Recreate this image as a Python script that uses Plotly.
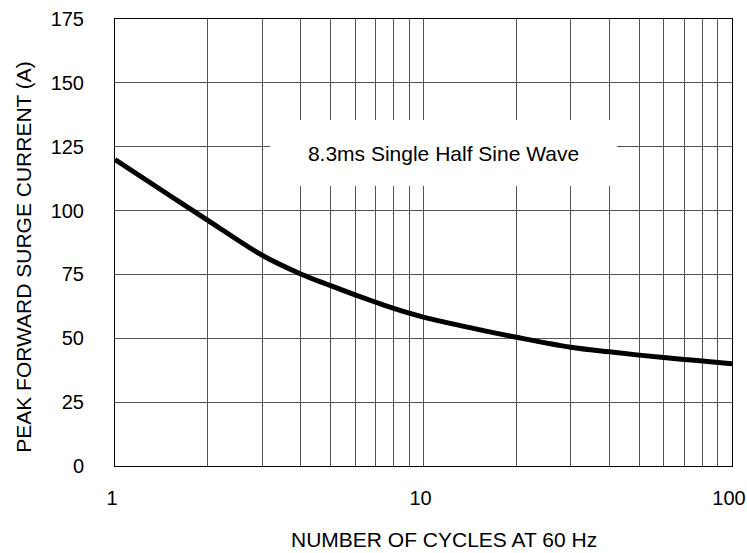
import plotly.graph_objects as go

# Data
cycles = [1, 1.5, 2, 3, 4, 5, 6, 7, 8, 10, 15, 20, 30, 40, 50, 60, 70, 80, 100]
current = [120, 106, 96.2, 82.5, 75.2, 70.6, 67.0, 64.1, 61.7, 58.3, 53.5, 50.4,
           46.5, 44.7, 43.4, 42.5, 41.7, 41.1, 40.0]

x_tick_vals = [1, 2, 3, 4, 5, 6, 7, 8, 9, 10, 20, 30, 40, 50, 60, 70, 80, 90, 100]
x_tick_text = ["1", "", "", "", "", "", "", "", "", "10", "", "", "", "", "", "", "", "", "100"]
y_tick_vals = [0, 25, 50, 75, 100, 125, 150, 175]

FONT = "Arial, Liberation Sans, sans-serif"

fig = go.Figure()
fig.add_trace(go.Scatter(
    x=cycles, y=current, mode="lines",
    line=dict(color="black", width=5, shape="spline", smoothing=1.0),
    hoverinfo="skip", showlegend=False,
))

# label with its white background box
fig.add_annotation(text="8.3ms Single Half Sine Wave", xref="paper", yref="paper",
                   x=0.532, y=0.700, xanchor="center", yanchor="middle",
                   showarrow=False, bgcolor="white", borderwidth=0, borderpad=0,
                   width=347, height=66, align="center", valign="middle",
                   font=dict(family=FONT, size=21, color="black"))
# axis titles
fig.add_annotation(text="NUMBER OF CYCLES AT 60 Hz", xref="paper", yref="paper",
                   x=0.533, y=-0.1646, xanchor="center", yanchor="middle",
                   showarrow=False,
                   font=dict(family=FONT, size=21, color="black"))
fig.add_annotation(text="PEAK FORWARD SURGE CURRENT (A)", xref="paper", yref="paper",
                   x=-0.1475, y=0.468, xanchor="center", yanchor="middle",
                   textangle=-90, showarrow=False,
                   font=dict(family=FONT, size=21, color="black"))

fig.update_layout(
    width=747, height=553,
    margin=dict(l=115, r=15, t=19, b=87),
    paper_bgcolor="white", plot_bgcolor="white",
    font=dict(family=FONT, size=20, color="black"),
)
fig.update_xaxes(
    type="log", range=[0, 2], automargin=False,
    tickvals=x_tick_vals, ticktext=x_tick_text,
    showgrid=True, gridcolor="#555", gridwidth=1,
    showline=True, mirror=True, linecolor="black", linewidth=1,
    ticks="", ticklen=0, ticklabelstandoff=14, ticklabelshift=-3,
    ticklabeloverflow="allow",
    zeroline=False,
)
fig.update_yaxes(
    range=[0, 175], tickvals=y_tick_vals, automargin=False,
    showgrid=True, gridcolor="#555", gridwidth=1,
    showline=True, mirror=True, linecolor="black", linewidth=1,
    ticks="", ticklen=0, ticklabelstandoff=26,
    zeroline=False,
)

fig.write_html(
    "out.html",
    config={"displayModeBar": False},
    post_script="document.body.style.margin='0';document.body.style.overflow='hidden';",
)
